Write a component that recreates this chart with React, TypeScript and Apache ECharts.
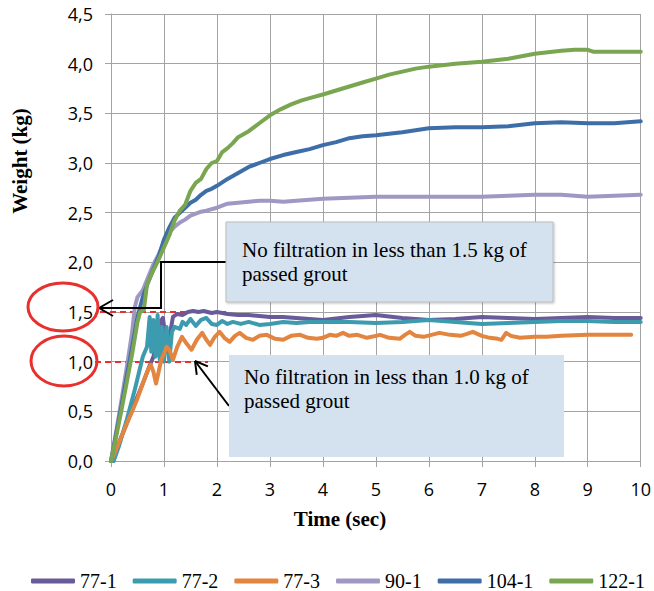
import React, { useEffect, useRef } from "react";
import * as echarts from "echarts";

const SERIES_NAMES = ["77-1", "77-2", "77-3", "90-1", "104-1", "122-1"];
const COLORS = ["#695a9a", "#3d9bb0", "#e3843f", "#a197c3", "#3e6ea8", "#7aa651"];

const X_TICKS = [0, 1, 2, 3, 4, 5, 6, 7, 8, 9, 10];
const Y_TICKS = [0, 0.5, 1, 1.5, 2, 2.5, 3, 3.5, 4, 4.5];

const T_77_1 = [0, 0.1, 0.2, 0.3, 0.4, 0.5, 0.6, 0.7, 0.8, 0.87, 0.93, 0.98, 1.03, 1.07, 1.12, 1.17, 1.25, 1.35, 1.45, 1.55, 1.65, 1.75, 1.9, 2.0, 2.2, 2.4, 2.6, 2.8, 3.0, 3.25, 3.5, 3.75, 4.0, 4.5, 5.0, 5.5, 6.0, 6.5, 7.0, 7.5, 8.0, 8.5, 9.0, 9.5, 10.0];
const W_77_1 = [0, 0.12, 0.25, 0.38, 0.52, 0.65, 0.78, 0.92, 1.05, 1.2, 1.4, 1.44, 1.25, 1.1, 1.3, 1.45, 1.48, 1.47, 1.5, 1.51, 1.5, 1.51, 1.49, 1.5, 1.48, 1.47, 1.47, 1.46, 1.45, 1.45, 1.44, 1.43, 1.42, 1.45, 1.47, 1.44, 1.42, 1.43, 1.45, 1.44, 1.43, 1.44, 1.45, 1.44, 1.44];

const T_77_2 = [0.05, 0.15, 0.3, 0.45, 0.6, 0.68, 0.73, 0.76, 0.8, 0.84, 0.88, 0.92, 0.96, 1.0, 1.05, 1.1, 1.15, 1.2, 1.3, 1.35, 1.42, 1.5, 1.6, 1.7, 1.8, 1.9, 2.0, 2.1, 2.2, 2.3, 2.45, 2.6, 2.8, 3.0, 3.25, 3.5, 3.75, 4.0, 4.5, 5.0, 5.5, 6.0, 6.5, 7.0, 7.5, 8.0, 8.5, 9.0, 9.5, 10.0];
const W_77_2 = [0, 0.15, 0.42, 0.72, 1.05, 1.15, 1.45, 1.1, 1.42, 1.05, 1.47, 1.02, 1.35, 1.0, 1.35, 1.0, 1.3, 1.35, 1.33, 1.4, 1.37, 1.43, 1.36, 1.42, 1.44, 1.38, 1.37, 1.41, 1.38, 1.4, 1.38, 1.4, 1.37, 1.38, 1.4, 1.39, 1.4, 1.4, 1.4, 1.39, 1.4, 1.42, 1.4, 1.38, 1.39, 1.4, 1.41, 1.41, 1.4, 1.4];

const T_77_3 = [0, 0.1, 0.2, 0.3, 0.4, 0.5, 0.6, 0.7, 0.75, 0.8, 0.85, 0.9, 0.95, 1.0, 1.05, 1.1, 1.17, 1.25, 1.34, 1.43, 1.52, 1.62, 1.72, 1.8, 1.87, 1.96, 2.05, 2.14, 2.24, 2.34, 2.43, 2.55, 2.68, 2.8, 2.94, 3.1, 3.25, 3.4, 3.57, 3.72, 3.89, 4.0, 4.13, 4.25, 4.38, 4.5, 4.65, 4.83, 5.0, 5.08, 5.25, 5.45, 5.55, 5.64, 5.75, 5.9, 6.05, 6.2, 6.4, 6.6, 6.72, 6.83, 7.0, 7.15, 7.3, 7.37, 7.46, 7.55, 7.72, 8.0, 8.22, 8.5, 9.0, 9.4, 9.82];
const W_77_3 = [0, 0.12, 0.25, 0.38, 0.5, 0.63, 0.78, 0.92, 0.97, 0.9, 0.78, 0.9, 1.02, 1.08, 1.15, 1.12, 1.02, 1.15, 1.25, 1.18, 1.12, 1.22, 1.29, 1.22, 1.17, 1.25, 1.3, 1.24, 1.2, 1.26, 1.29, 1.24, 1.22, 1.26, 1.27, 1.23, 1.22, 1.26, 1.27, 1.24, 1.23, 1.24, 1.27, 1.26, 1.29, 1.26, 1.27, 1.24, 1.26, 1.27, 1.24, 1.23, 1.27, 1.3, 1.26, 1.25, 1.27, 1.29, 1.27, 1.26, 1.28, 1.3, 1.26, 1.24, 1.23, 1.22, 1.29, 1.26, 1.24, 1.25, 1.25, 1.26, 1.27, 1.27, 1.27];

const T_90_1 = [0, 0.1, 0.2, 0.3, 0.4, 0.45, 0.5, 0.6, 0.7, 0.8, 0.9, 1.0, 1.1, 1.2, 1.3, 1.4, 1.5, 1.6, 1.7, 1.8, 2.0, 2.2, 2.4, 2.6, 2.8, 3.0, 3.25, 3.5, 4.0, 4.5, 5.0, 6.0, 7.0, 7.5, 8.0, 8.5, 9.0, 9.5, 10.0];
const W_90_1 = [0, 0.3, 0.62, 0.95, 1.3, 1.55, 1.65, 1.72, 1.85, 1.98, 2.08, 2.2, 2.3, 2.36, 2.4, 2.43, 2.47, 2.49, 2.51, 2.52, 2.55, 2.59, 2.6, 2.61, 2.62, 2.62, 2.61, 2.62, 2.64, 2.65, 2.66, 2.66, 2.66, 2.67, 2.68, 2.68, 2.66, 2.67, 2.68];

const T_104_1 = [0, 0.1, 0.2, 0.3, 0.4, 0.5, 0.6, 0.7, 0.8, 0.9, 1.0, 1.1, 1.2, 1.3, 1.4, 1.5, 1.6, 1.7, 1.8, 1.9, 2.0, 2.2, 2.4, 2.6, 2.8, 3.0, 3.25, 3.5, 3.75, 4.0, 4.25, 4.5, 4.75, 5.0, 5.5, 6.0, 6.5, 7.0, 7.5, 8.0, 8.5, 9.0, 9.5, 10.0];
const W_104_1 = [0, 0.28, 0.56, 0.86, 1.15, 1.45, 1.65, 1.8, 1.93, 2.06, 2.23, 2.35, 2.45, 2.5, 2.55, 2.6, 2.63, 2.68, 2.72, 2.74, 2.77, 2.84, 2.9, 2.96, 3.0, 3.04, 3.08, 3.11, 3.14, 3.18, 3.21, 3.25, 3.27, 3.28, 3.31, 3.35, 3.36, 3.36, 3.37, 3.4, 3.41, 3.4, 3.4, 3.42];

const T_122_1 = [0, 0.1, 0.2, 0.3, 0.4, 0.5, 0.55, 0.62, 0.68, 0.8, 0.9, 1.0, 1.1, 1.2, 1.3, 1.4, 1.5, 1.6, 1.7, 1.8, 1.9, 2.0, 2.1, 2.2, 2.3, 2.4, 2.5, 2.6, 2.8, 3.0, 3.2, 3.4, 3.6, 3.8, 4.0, 4.25, 4.5, 4.75, 5.0, 5.25, 5.5, 5.75, 6.0, 6.5, 7.0, 7.5, 8.0, 8.5, 8.75, 9.0, 9.1, 9.5, 10.0];
const W_122_1 = [0, 0.25, 0.52, 0.8, 1.08, 1.4, 1.5, 1.52, 1.78, 1.92, 2.03, 2.15, 2.27, 2.42, 2.52, 2.58, 2.72, 2.8, 2.84, 2.94, 3.0, 3.02, 3.11, 3.15, 3.2, 3.26, 3.29, 3.32, 3.4, 3.48, 3.54, 3.59, 3.63, 3.66, 3.69, 3.73, 3.77, 3.81, 3.85, 3.89, 3.92, 3.95, 3.97, 4.0, 4.02, 4.05, 4.1, 4.13, 4.14, 4.14, 4.12, 4.12, 4.12];

const SERIES_T = [T_77_1, T_77_2, T_77_3, T_90_1, T_104_1, T_122_1];
const SERIES_W = [W_77_1, W_77_2, W_77_3, W_90_1, W_104_1, W_122_1];

const NOTE_1 = ["No filtration in less than 1.5 kg of", "passed grout"];
const NOTE_2 = ["No filtration in less than 1.0 kg of", "passed grout"];

const SERIF = "Liberation Serif";
const SANS = "Open Sans";
const GRID_COLOR = "#a3a3a3";
const RED = "#e8312f";

export default function App() {
  const ref = useRef<HTMLDivElement>(null);

  useEffect(() => {
    if (!ref.current) return;
    const chart = echarts.init(ref.current, undefined, { renderer: "svg" });

    const series = SERIES_NAMES.map((name, i) => ({
      name,
      type: "line",
      data: SERIES_T[i].map((t, j) => [t, SERIES_W[i][j]]),
      symbol: "none",
      showSymbol: false,
      lineStyle: { width: 4, color: COLORS[i], join: "round", cap: "round" },
      itemStyle: { color: COLORS[i] },
      z: 2 + i,
    }));

    const arrowLine = (x1: number, y1: number, x2: number, y2: number) => ({
      type: "line",
      z: 50,
      shape: { x1, y1, x2, y2 },
      style: { stroke: "#000", lineWidth: 2 },
    });

    const tipX = 195, tipY = 361, tailX = 229, tailY = 406;
    const ang = Math.atan2(tailY - tipY, tailX - tipX);
    const hl = 14, ha = Math.PI / 6;
    const h1 = [tipX + hl * Math.cos(ang - ha), tipY + hl * Math.sin(ang - ha)];
    const h2 = [tipX + hl * Math.cos(ang + ha), tipY + hl * Math.sin(ang + ha)];

    const noteText = (x: number, y: number, text: string) => ({
      type: "text",
      z: 101,
      x,
      y,
      style: {
        text,
        fontFamily: SERIF,
        fontSize: 21,
        fill: "#000",
        textAlign: "left",
        textVerticalAlign: "middle",
      },
    });

    chart.setOption({
      animation: false,
      grid: { left: 111, right: 13, top: 14, bottom: 130, containLabel: false },
      xAxis: {
        type: "value",
        min: X_TICKS[0],
        max: X_TICKS[X_TICKS.length - 1],
        interval: 1,
        axisLine: { show: true, lineStyle: { color: GRID_COLOR, width: 1 } },
        axisTick: { show: true, length: 6, lineStyle: { color: GRID_COLOR } },
        splitLine: { show: true, lineStyle: { color: GRID_COLOR, width: 1 } },
        axisLabel: { color: "#000", fontFamily: SANS, fontSize: 18, margin: 19 },
      },
      yAxis: {
        type: "value",
        min: Y_TICKS[0],
        max: Y_TICKS[Y_TICKS.length - 1],
        interval: 0.5,
        axisLine: { show: true, lineStyle: { color: GRID_COLOR, width: 1 } },
        axisTick: { show: true, length: 6, lineStyle: { color: GRID_COLOR } },
        splitLine: { show: true, lineStyle: { color: GRID_COLOR, width: 1 } },
        axisLabel: {
          color: "#000",
          fontFamily: SANS,
          fontSize: 18,
          margin: 18,
          formatter: (v: number) => v.toFixed(1).replace(".", ","),
        },
      },
      legend: {
        data: SERIES_NAMES,
        left: 26,
        top: 566,
        icon: "roundRect",
        itemWidth: 44,
        itemHeight: 5,
        itemGap: 16,
        textStyle: { fontFamily: SERIF, fontSize: 20, color: "#000" },
      },
      series,
      graphic: [
        {
          type: "text",
          x: 340,
          y: 519,
          style: {
            text: "Time (sec)",
            fontFamily: SERIF,
            fontSize: 21,
            fontWeight: "bold",
            fill: "#000",
            textAlign: "center",
            textVerticalAlign: "middle",
          },
        },
        {
          type: "text",
          x: 20,
          y: 161,
          rotation: Math.PI / 2,
          style: {
            text: "Weight (kg)",
            fontFamily: SERIF,
            fontSize: 21,
            fontWeight: "bold",
            fill: "#000",
            textAlign: "center",
            textVerticalAlign: "middle",
          },
        },
        {
          type: "line",
          z: 1,
          shape: { x1: 100, y1: 312, x2: 226, y2: 312 },
          style: { stroke: RED, lineWidth: 2, lineDash: [6, 4] },
        },
        {
          type: "line",
          z: 1,
          shape: { x1: 95, y1: 362, x2: 208, y2: 362 },
          style: { stroke: RED, lineWidth: 2, lineDash: [6, 4] },
        },
        {
          type: "ellipse",
          z: 60,
          shape: { cx: 63, cy: 307, rx: 35, ry: 24 },
          style: { stroke: RED, lineWidth: 3, fill: "none" },
        },
        {
          type: "ellipse",
          z: 60,
          shape: { cx: 64, cy: 361, rx: 33, ry: 25 },
          style: { stroke: RED, lineWidth: 3, fill: "none" },
        },
        {
          type: "polyline",
          z: 50,
          shape: { points: [[226, 262], [161, 262], [161, 308], [99, 308]] },
          style: { stroke: "#000", lineWidth: 2, fill: "none" },
        },
        arrowLine(99, 308, 113, 300),
        arrowLine(99, 308, 113, 316),
        arrowLine(tailX, tailY, tipX, tipY),
        arrowLine(tipX, tipY, h1[0], h1[1]),
        arrowLine(tipX, tipY, h2[0], h2[1]),
        {
          type: "rect",
          z: 100,
          shape: { x: 226, y: 222, width: 327, height: 80 },
          style: { fill: "#d3e2ee", stroke: "#bcbcbc", lineWidth: 1, shadowBlur: 2, shadowColor: "rgba(0,0,0,0.25)", shadowOffsetX: 1, shadowOffsetY: 1 },
        },
        noteText(242, 250, NOTE_1[0]),
        noteText(242, 274, NOTE_1[1]),
        {
          type: "rect",
          z: 100,
          shape: { x: 229, y: 355, width: 335, height: 102 },
          style: { fill: "#d3e2ee" },
        },
        noteText(244, 377, NOTE_2[0]),
        noteText(244, 401, NOTE_2[1]),
      ],
    });

    return () => chart.dispose();
  }, []);

  return <div ref={ref} style={{ width: 654, height: 591, position: "absolute", left: 0, top: 0 }} />;
}
